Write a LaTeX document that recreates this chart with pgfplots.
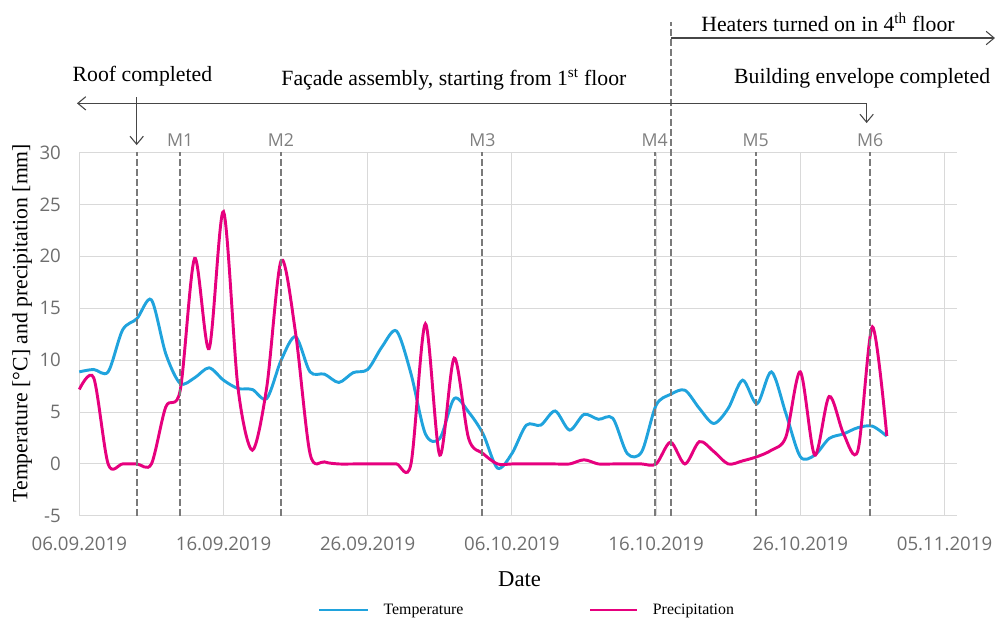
\documentclass[border=0pt]{standalone}
\usepackage{fontspec}
\setmainfont{Liberation Serif}
\newfontfamily\osans{Open Sans}
\usepackage{pgfplots}
\pgfplotsset{compat=1.18}
\usetikzlibrary{arrows.meta}
\definecolor{tempc}{RGB}{32,163,221}
\definecolor{precc}{RGB}{230,0,126}
\definecolor{gridc}{RGB}{217,217,217}
\definecolor{tickc}{RGB}{110,110,110}
\definecolor{mc}{RGB}{128,128,128}
\definecolor{dashc}{RGB}{122,122,122}
\definecolor{annc}{RGB}{70,70,70}
\begin{document}
\begin{tikzpicture}
\begin{axis}[
 scale only axis, width=658.05pt, height=272.55pt,
 xmin=0, xmax=60.85, ymin=-5, ymax=30,
 axis line style={draw=none},
 grid=major, major grid style={gridc, line width=0.8pt},
 xtick={0,10,...,60},
 xticklabels={06.09.2019,16.09.2019,26.09.2019,06.10.2019,16.10.2019,26.10.2019,05.11.2019},
 ytick={-5,0,...,30},
 tick style={draw=none},
 /pgf/number format/assume math mode=true,
 ticklabel style={font=\osans\fontsize{14}{16}\selectfont, text=tickc},
 xticklabel style={yshift=-12.4pt},
 yticklabel style={xshift=-10.3pt},
 clip=false,
]
\addplot[tempc, line width=2.2pt, smooth] table {
0 8.87
1 9.1
2 8.87
3 12.9
4 14.0
5 15.8
6 10.6
7 7.75
8 8.3
9 9.26
10 8.07
11 7.27
12 7.17
13 6.3
14 10.0
15 12.25
16 8.87
17 8.65
18 7.85
19 8.8
20 9.1
21 11.3
22 12.8
23 8.7
24 2.9
25 2.45
26 6.3
27 5.0
28 2.9
29 -0.4
30 1.0
31 3.74
32 3.74
33 5.1
34 3.26
35 4.77
36 4.3
37 4.4
38 1.0
39 1.17
40 5.66
41 6.7
42 7.1
43 5.35
44 3.9
45 5.35
46 8.07
47 5.8
48 8.87
49 4.86
50 0.7
51 0.85
52 2.45
53 2.9
54 3.5
55 3.64
56 2.68
};
\addplot[precc, line width=2.2pt, smooth] table {
0 7.17
1 8.3
2 0
3 0
4 0
5 0
6 5.5
7 7.1
8 19.8
9 11.1
10 24.3
11 7.4
12 1.33
13 7.4
14 19.6
15 12.6
16 1.0
17 0.2
18 0
19 0
20 0
21 0
22 0
23 0
24 13.5
25 0.85
26 10.2
27 2.45
28 1.0
29 0
30 0
31 0
32 0
33 0
34 0
35 0.4
36 0
37 0
38 0
39 0
40 0
41 2.1
42 0
43 2.15
44 1.2
45 0
46 0.3
47 0.7
48 1.33
49 2.6
50 8.87
51 0.85
52 6.5
53 2.9
54 1.33
55 13.2
56 2.7
};
% milestone lines
\foreach \xx/\lab in {7.0/M1,13.99/M2,27.95/M3,39.9/M4,46.91/M5,54.85/M6}{
  \edef\tmp{\noexpand\draw[dashc, line width=1.7pt, dash pattern=on 5pt off 2.5pt] (axis cs:\xx,-5) -- (axis cs:\xx,30);
  \noexpand\node[anchor=base, font=\noexpand\osans\noexpand\fontsize{13.3}{15}\noexpand\selectfont, text=mc, inner sep=0pt] at (axis cs:\xx,30.55) {\lab};}
  \tmp
}
% roof line
\draw[dashc, line width=1.7pt, dash pattern=on 5pt off 2.5pt] (axis cs:3.98,-5) -- (axis cs:3.98,30);
\draw[annc, line width=0.8pt, -{Straight Barb[length=6pt,width=10pt]}] (axis cs:3.98,35.34) -- (axis cs:3.98,30.71);
% heaters line
\draw[dashc, line width=2pt, dash pattern=on 5pt off 2.5pt] (axis cs:41.03,-5) -- (axis cs:41.03,42.56);
\draw[annc, line width=0.8pt, -{Straight Barb[length=6pt,width=10pt]}] (axis cs:41.03,41.02) -- (axis cs:63.5,41.02);
% facade arrow
\draw[annc, line width=0.8pt, {Straight Barb[length=6pt,width=10pt]}-] (axis cs:-0.16,34.73) -- (axis cs:54.6,34.73);
\draw[annc, line width=0.8pt, -{Straight Barb[length=6pt,width=10pt]}] (axis cs:54.6,34.73) -- (axis cs:54.6,32.83);
% texts
\node[anchor=base, font=\fontsize{16.3}{18}\selectfont, inner sep=0pt] at (axis cs:51.92,41.63) {Heaters turned on in 4\textsuperscript{th} floor};
\node[anchor=base, font=\fontsize{16.3}{18}\selectfont, inner sep=0pt] at (axis cs:4.38,36.81) {Roof completed};
\node[anchor=base, font=\fontsize{16.3}{18}\selectfont, inner sep=0pt] at (axis cs:25.98,36.40) {Façade assembly, starting from 1\textsuperscript{st} floor};
\node[anchor=base, font=\fontsize{16.3}{18}\selectfont, inner sep=0pt] at (axis cs:54.29,36.66) {Building envelope completed};
\node[rotate=90, font=\fontsize{16.3}{18}\selectfont, inner sep=0pt] at (axis cs:-3.97,13.56) {Temperature [°C] and precipitation [mm]};
\node[anchor=base, font=\fontsize{17}{19}\selectfont, inner sep=0pt] at (axis cs:30.53,-11.84) {Date};
% legend
\draw[tempc, line width=1.8pt] (axis cs:16.64,-14.08) -- (axis cs:20.04,-14.08);
\node[anchor=base west, font=\fontsize{11.9}{13}\selectfont, inner sep=0pt] at (axis cs:21.08,-14.47) {Temperature};
\draw[precc, line width=1.8pt] (axis cs:35.42,-14.08) -- (axis cs:38.65,-14.08);
\node[anchor=base west, font=\fontsize{11.9}{13}\selectfont, inner sep=0pt] at (axis cs:39.76,-14.47) {Precipitation};
\coordinate (bl) at (axis cs:-5.499,-14.759);
\coordinate (tr) at (axis cs:63.64,44.682);
\end{axis}
\pgfresetboundingbox
\useasboundingbox (bl) rectangle (tr);
\end{tikzpicture}
\end{document}
